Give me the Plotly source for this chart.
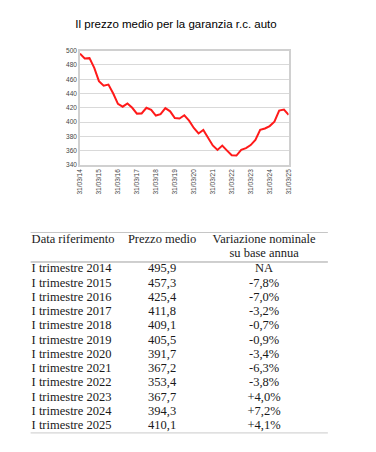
import plotly.graph_objects as go

# ---- chart data (quarterly, Q1 2014 .. Q1 2025) ----
quarter_dates = [f"{y}-{md}" for y in range(2014, 2026)
                 for md in ("03-31", "06-30", "09-30", "12-31")][:45]
prezzo_trimestrale = [
    495.9, 489.0, 489.5, 476.0,
    457.3, 451.0, 452.5, 440.0,
    425.4, 421.5, 426.0, 420.0,
    411.8, 412.0, 420.0, 417.0,
    409.1, 411.0, 419.5, 415.0,
    405.5, 405.0, 409.5, 402.0,
    391.7, 384.0, 389.0, 378.0,
    367.2, 361.0, 367.0, 360.0,
    353.4, 353.0, 361.0, 363.5,
    367.7, 375.0, 389.0, 391.0,
    394.3, 400.5, 416.0, 417.5,
    410.1,
]
tick_dates = [f"{y}-03-31" for y in range(2014, 2026)]
tick_labels = [f"31/03/{str(y)[2:]}" for y in range(2014, 2026)]
y_ticks = [340, 360, 380, 400, 420, 440, 460, 480, 500]

# ---- table data ----
header = ["Data riferimento", "Prezzo medio", "Variazione nominale", "su base annua"]
date_rif = [f"I trimestre {y}" for y in range(2014, 2026)]
prezzo_medio = ["495,9", "457,3", "425,4", "411,8", "409,1", "405,5",
                "391,7", "367,2", "353,4", "367,7", "394,3", "410,1"]
variazione = ["NA", "-7,8%", "-7,0%", "-3,2%", "-0,7%", "-0,9%",
              "-3,4%", "-6,3%", "-3,8%", "+4,0%", "+7,2%", "+4,1%"]

# page has an 8px body margin -> figure drawn from (8, 8)
OFF = 8
W, H = 376 - OFF, 452 - OFF


def px(v):
    return (v - OFF) / W


def py(v):
    return 1 - (v - OFF) / H


serif = "Liberation Serif"
tfs = 12.5
tcol = "#1a1a1a"
rows = list(range(len(date_rif)))

fig = go.Figure()

fig.add_trace(go.Scatter(
    x=quarter_dates, y=prezzo_trimestrale, mode="lines",
    line=dict(color="#ff1a1a", width=2), hoverinfo="skip", showlegend=False,
    xaxis="x", yaxis="y"))

# table text columns (x2 in page-pixel units, y2 in row units)
col_x = [28, 161, 265]
tf = dict(family=serif, size=tfs, color=tcol)
fig.add_trace(go.Scatter(x=[col_x[0]] * len(rows), y=rows, text=date_rif, mode="text",
                         textposition="middle right", textfont=tf,
                         hoverinfo="skip", showlegend=False, xaxis="x2", yaxis="y2"))
fig.add_trace(go.Scatter(x=[col_x[1]] * len(rows), y=rows, text=prezzo_medio, mode="text",
                         textposition="middle center", textfont=tf,
                         hoverinfo="skip", showlegend=False, xaxis="x2", yaxis="y2"))
fig.add_trace(go.Scatter(x=[col_x[2]] * len(rows), y=rows, text=variazione, mode="text",
                         textposition="middle center", textfont=tf,
                         hoverinfo="skip", showlegend=False, xaxis="x2", yaxis="y2"))
# header
fig.add_trace(go.Scatter(x=[col_x[0], col_x[1], col_x[2], col_x[2]],
                         y=[-2.017, -2.017, -2.017, -1.052], text=header, mode="text",
                         textposition=["middle right", "middle center", "middle center", "middle center"],
                         textfont=tf, hoverinfo="skip", showlegend=False, xaxis="x2", yaxis="y2"))

tick_font = dict(family="Liberation Sans", size=6.5, color="#444444")
fig.update_layout(
    width=W, height=H,
    margin=dict(l=0, r=0, t=0, b=0),
    paper_bgcolor="white", plot_bgcolor="white",
    title=dict(text="Il prezzo medio per la garanzia r.c. auto",
               x=px(176), xanchor="center", y=py(23.5), yanchor="middle",
               font=dict(family="Liberation Sans", size=11.5, color="black")),
    xaxis=dict(domain=[px(77.3), px(290)], type="date",
               range=[quarter_dates[0], quarter_dates[-1]],
               tickvals=tick_dates, ticktext=tick_labels, tickangle=-90,
               tickfont=tick_font, showgrid=False, zeroline=False,
               showline=True, linecolor="#d0d0d0", linewidth=1.5, mirror=True,
               ticks="", ticklen=0),
    yaxis=dict(domain=[py(163.3), py(47.3)], range=[340, 500],
               tickvals=y_ticks, tickfont=tick_font,
               showgrid=True, gridcolor="#d9d9d9", gridwidth=1.2, zeroline=False,
               showline=True, linecolor="#d0d0d0", linewidth=1.5, mirror=True,
               ticks="", ticklen=0),
    xaxis2=dict(domain=[0, 1], range=[OFF, OFF + W], visible=False, anchor="y2"),
    yaxis2=dict(domain=[py(436), py(232)], range=[11.5, -2.569],
                visible=False, anchor="x2"),
    shapes=[
        dict(type="line", xref="paper", yref="y2", x0=px(27), x1=px(330), y0=-2.569, y1=-2.569,
             line=dict(color="#888888", width=1)),
        dict(type="line", xref="paper", yref="y2", x0=px(27), x1=px(330), y0=-0.5, y1=-0.5,
             line=dict(color="#888888", width=0.8)),
        dict(type="line", xref="paper", yref="y2", x0=px(27), x1=px(330), y0=11.5, y1=11.5,
             line=dict(color="#888888", width=1)),
    ],
)

fig.write_html("out.html")
